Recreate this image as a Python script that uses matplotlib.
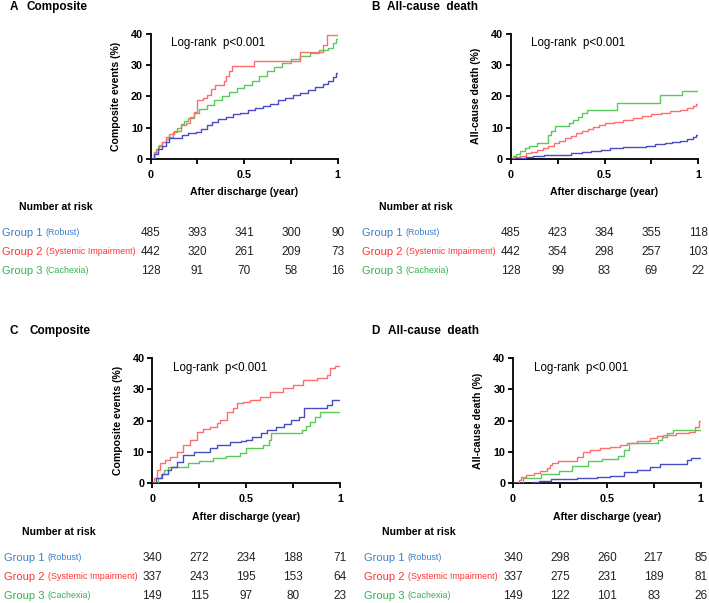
import matplotlib
matplotlib.use("Agg")
import matplotlib.pyplot as plt
import matplotlib.transforms as mtransforms
from matplotlib.ticker import MultipleLocator

plt.rcParams['font.family'] = ['Liberation Sans', 'DejaVu Sans']

W, H = 709, 603

# colours
LINE_C = ['#4b4bc4', '#ff6e6e', '#5acb5a']
TEXT_C = ['#3b7fc8', '#ff3333', '#33b050']

group_names = ['Group 1', 'Group 2', 'Group 3']
group_sub = ['(Robust)', '(Systemic Impairment)', '(Cachexia)']
risk_times = [0, 0.25, 0.5, 0.75, 1.0]

# ---- panel A : composite (cohort 1)
a_g1_t = [0, 0.02, 0.04, 0.06, 0.08, 0.10, 0.13, 0.17, 0.20, 0.24, 0.27, 0.30, 0.33, 0.36, 0.40, 0.44,
          0.48, 0.52, 0.56, 0.60, 0.64, 0.68, 0.72, 0.76, 0.80, 0.84, 0.88, 0.92, 0.95, 0.975, 0.99, 1.0]
a_g1_y = [0, 1.5, 3.0, 4.2, 5.5, 6.5, 6.8, 7.5, 8.2, 8.5, 9.5, 10.8, 11.8, 12.6, 13.5, 14.2,
          14.8, 15.5, 16.2, 16.8, 17.5, 18.8, 19.5, 20.3, 21.0, 22.0, 23.0, 24.0, 25.0, 26.3, 27.6, 27.6]
a_g2_t = [0, 0.015, 0.03, 0.045, 0.06, 0.08, 0.10, 0.125, 0.16, 0.19, 0.21, 0.23, 0.25, 0.28, 0.30,
          0.32, 0.345, 0.39, 0.405, 0.42, 0.435, 0.555, 0.80, 0.92, 0.945, 1.0]
a_g2_y = [0, 1.5, 3.0, 4.5, 5.5, 7.0, 8.0, 9.0, 10.8, 11.5, 13.5, 15.0, 18.8, 19.5, 20.5,
          22.5, 23.8, 24.8, 26.5, 28.0, 29.8, 31.4, 34.3, 36.5, 39.7, 39.7]
a_g3_t = [0, 0.02, 0.04, 0.06, 0.08, 0.10, 0.12, 0.14, 0.16, 0.18, 0.20, 0.23, 0.26, 0.30, 0.34, 0.38,
          0.42, 0.46, 0.50, 0.54, 0.58, 0.62, 0.66, 0.70, 0.75, 0.80, 0.85, 0.90, 0.95, 0.975, 0.99, 1.0]
a_g3_y = [0, 2.0, 4.0, 5.5, 6.2, 7.0, 8.5, 9.8, 11.0, 12.0, 13.0, 14.5, 15.8, 17.2, 18.8, 20.0,
          21.5, 22.8, 23.8, 25.0, 26.5, 28.0, 29.5, 30.8, 32.0, 32.8, 34.0, 34.8, 35.5, 37.0, 38.5, 38.5]
a_risk = [[485, 393, 341, 300, 90], [442, 320, 261, 209, 73], [128, 91, 70, 58, 16]]

# ---- panel B : all-cause death (cohort 1)
b_g1_t = [0, 0.04, 0.08, 0.12, 0.18, 0.28, 0.32, 0.38, 0.43, 0.48, 0.53, 0.60, 0.66, 0.72, 0.77,
          0.82, 0.86, 0.90, 0.94, 0.97, 0.99, 1.0]
b_g1_y = [0, 0.2, 0.5, 0.8, 1.1, 1.3, 1.8, 2.2, 2.6, 2.9, 3.3, 3.6, 3.9, 4.2, 4.6,
          5.0, 5.4, 5.8, 6.3, 6.9, 7.6, 7.6]
b_g2_t = [0, 0.02, 0.05, 0.08, 0.11, 0.14, 0.17, 0.20, 0.23, 0.26, 0.29, 0.32, 0.35, 0.38, 0.41,
          0.44, 0.47, 0.50, 0.55, 0.60, 0.65, 0.70, 0.75, 0.80, 0.85, 0.90, 0.94, 0.97, 0.99, 1.0]
b_g2_y = [0, 0.5, 1.0, 1.7, 2.3, 2.8, 3.5, 4.2, 5.0, 5.8, 6.5, 7.3, 8.3, 9.0, 9.6,
          10.2, 10.8, 11.3, 11.8, 12.3, 13.0, 13.6, 14.2, 14.8, 15.2, 15.7, 16.3, 17.0, 17.5, 17.5]
b_g3_t = [0, 0.01, 0.03, 0.05, 0.075, 0.10, 0.14, 0.20, 0.215, 0.235, 0.31, 0.33, 0.36, 0.38,
          0.405, 0.565, 0.795, 0.915, 1.0]
b_g3_y = [0, 0.8, 1.6, 2.5, 3.4, 4.2, 5.0, 7.6, 9.0, 10.5, 11.5, 12.5, 13.5, 14.5,
          15.6, 17.8, 20.5, 21.8, 21.8]
b_risk = [[485, 423, 384, 355, 118], [442, 354, 298, 257, 103], [128, 99, 83, 69, 22]]

# ---- panel C : composite (cohort 2)
c_g1_t = [0, 0.02, 0.05, 0.085, 0.10, 0.13, 0.165, 0.22, 0.255, 0.31, 0.345, 0.415, 0.47, 0.50,
          0.53, 0.58, 0.61, 0.66, 0.70, 0.74, 0.78, 0.81, 0.90, 0.93, 0.96, 1.0]
c_g1_y = [0, 1.5, 3.0, 4.2, 5.2, 6.8, 9.0, 9.8, 10.0, 11.1, 12.2, 13.0, 13.5, 13.8,
          14.9, 15.9, 17.0, 18.0, 19.0, 20.2, 21.3, 24.0, 24.2, 25.0, 26.6, 26.6]
c_g2_t = [0, 0.009, 0.023, 0.041, 0.067, 0.094, 0.13, 0.165, 0.20, 0.236, 0.272, 0.307, 0.343,
          0.36, 0.396, 0.432, 0.449, 0.485, 0.52, 0.574, 0.627, 0.698, 0.751, 0.805, 0.876,
          0.929, 0.947, 0.973, 1.0]
c_g2_y = [0, 1.5, 4.2, 6.3, 7.4, 8.4, 10.0, 12.2, 13.8, 16.3, 17.3, 18.1, 19.1,
          20.2, 22.9, 24.2, 25.6, 26.1, 26.6, 27.7, 29.3, 30.4, 31.4, 33.0, 33.6,
          34.7, 36.8, 37.6, 37.6]
c_g3_t = [0, 0.03, 0.045, 0.06, 0.085, 0.19, 0.25, 0.325, 0.395, 0.465, 0.50, 0.59, 0.62, 0.635,
          0.80, 0.82, 0.84, 0.865, 0.895, 1.0]
c_g3_y = [0, 1.5, 3.0, 4.2, 5.2, 6.3, 7.0, 7.9, 8.8, 9.5, 11.1, 12.2, 13.8, 15.9,
          17.0, 18.4, 19.7, 21.3, 22.9, 22.9]
c_risk = [[340, 272, 234, 188, 71], [337, 243, 195, 153, 64], [149, 115, 97, 80, 23]]

# ---- panel D : all-cause death (cohort 2)
d_g1_t = [0, 0.105, 0.14, 0.20, 0.34, 0.445, 0.515, 0.59, 0.66, 0.73, 0.785, 0.925, 0.95, 1.0]
d_g1_y = [0, 0.3, 0.6, 1.3, 1.5, 1.9, 2.4, 3.4, 4.2, 5.2, 6.0, 7.4, 7.9, 7.9]
d_g2_t = [0, 0.03, 0.045, 0.07, 0.11, 0.145, 0.18, 0.195, 0.21, 0.24, 0.34, 0.375, 0.41, 0.465,
          0.515, 0.57, 0.605, 0.66, 0.73, 0.765, 0.80, 0.87, 0.94, 0.97, 0.99, 1.0]
d_g2_y = [0, 1.0, 2.0, 2.6, 3.1, 3.9, 4.7, 5.8, 6.5, 7.1, 8.4, 10.0, 10.6, 11.2,
          11.7, 12.2, 12.7, 13.5, 14.3, 15.0, 15.4, 15.9, 16.3, 18.1, 19.9, 19.9]
d_g3_t = [0, 0.055, 0.15, 0.245, 0.315, 0.40, 0.475, 0.56, 0.59, 0.62, 0.775, 0.795, 0.82, 0.855, 1.0]
d_g3_y = [0, 1.5, 2.9, 3.9, 5.3, 6.9, 7.6, 8.8, 10.5, 12.7, 13.8, 14.9, 16.0, 17.0, 17.0]
d_risk = [[340, 298, 260, 217, 85], [337, 275, 231, 189, 81], [149, 122, 101, 83, 26]]


def fx(x):
    return x / W


def fy(y):
    return 1 - y / H


fig = plt.figure(figsize=(W / 100, H / 100), dpi=100)


def make_panel(left, right, top, bottom, curves, ylabel):
    ax = fig.add_axes([fx(left), fy(bottom), (right - left) / W, (bottom - top) / H])
    for i, (t, y) in enumerate(curves):
        ax.step(t, y, where='post', color=LINE_C[i], lw=1.0, zorder=3 - i * 0.1)
    ax.set_xlim(0, 1)
    ax.set_ylim(0, 40)
    ax.xaxis.set_minor_locator(MultipleLocator(0.25))
    ax.yaxis.set_major_locator(MultipleLocator(10))
    ax.set_xticks([0, 0.5, 1])
    ax.set_xticklabels(['0', '0.5', '1'])
    for s in ['top', 'right']:
        ax.spines[s].set_visible(False)
    for s in ['left', 'bottom']:
        ax.spines[s].set_linewidth(1.3)
    ax.tick_params(which='both', direction='out', length=3.5, width=1.3, labelsize=7.8)
    ax.tick_params(axis='x', pad=4.5)
    ax.tick_params(axis='y', pad=2)
    for lab in ax.get_xticklabels() + ax.get_yticklabels():
        lab.set_fontweight('bold')
    ax.set_xlabel('After discharge (year)', fontsize=7.6, fontweight='bold')
    ax.xaxis.set_label_coords(0.5, -0.27)
    ax.xaxis.label.set_va('center')
    ax.set_ylabel(ylabel, fontsize=7.6, fontweight='bold')
    ax.yaxis.set_label_coords(-0.185, 0.5)
    ax.yaxis.label.set_va('center')
    ax.text(0.11, 0.925, 'Log-rank  p<0.001', transform=ax.transAxes, fontsize=8.3,
            va='center', ha='left')
    return ax


def risk_table(ax, x_label, y_head, y_rows, risk):
    fig.text(fx(x_label[1]), fy(y_head), 'Number at risk', fontsize=7.6, fontweight='bold',
             va='center', ha='left')
    trans = mtransforms.blended_transform_factory(ax.transData, fig.transFigure)
    for i in range(3):
        t1 = fig.text(fx(x_label[0]), fy(y_rows[i]), group_names[i] + ' ', fontsize=8,
                      color=TEXT_C[i], va='center', ha='left')
        ax.annotate(group_sub[i], xy=(1, 0.12), xycoords=t1, fontsize=6.4, color=TEXT_C[i],
                    va='bottom', ha='left', annotation_clip=False)
        for j, n in enumerate(risk[i]):
            ax.text(risk_times[j], fy(y_rows[i]), str(n), transform=trans, fontsize=8.5,
                    ha='center', va='center', color='#222222')


def title(x_letter, x_word, y, letter, word):
    fig.text(fx(x_letter), fy(y), letter, fontsize=8.5, fontweight='bold', va='center')
    fig.text(fx(x_word), fy(y), word, fontsize=8.5, fontweight='bold', va='center')


axA = make_panel(150.7, 337.7, 34, 158.7,
                 [(a_g1_t, a_g1_y), (a_g2_t, a_g2_y), (a_g3_t, a_g3_y)], 'Composite events (%)')
axB = make_panel(510.7, 698.3, 34, 158.7,
                 [(b_g1_t, b_g1_y), (b_g2_t, b_g2_y), (b_g3_t, b_g3_y)], 'All-cause death (%)')
axC = make_panel(152.3, 340.0, 358.3, 483,
                 [(c_g1_t, c_g1_y), (c_g2_t, c_g2_y), (c_g3_t, c_g3_y)], 'Composite events (%)')
axD = make_panel(513.0, 700.7, 358.3, 483,
                 [(d_g1_t, d_g1_y), (d_g2_t, d_g2_y), (d_g3_t, d_g3_y)], 'All-cause death (%)')

title(10, 26.7, 7, 'A', 'Composite')
title(371.7, 386.7, 7, 'B', 'All-cause  death')
title(10, 29, 331, 'C', 'Composite')
title(371, 388.3, 331, 'D', 'All-cause  death')

risk_table(axA, (2, 19), 207, (233, 252, 271), a_risk)
risk_table(axB, (362, 379), 207, (233, 252, 271), b_risk)
risk_table(axC, (4, 21.7), 532, (558, 577, 596), c_risk)
risk_table(axD, (364, 381.7), 532, (558, 577, 596), d_risk)

fig.savefig('out.png', dpi=100)
